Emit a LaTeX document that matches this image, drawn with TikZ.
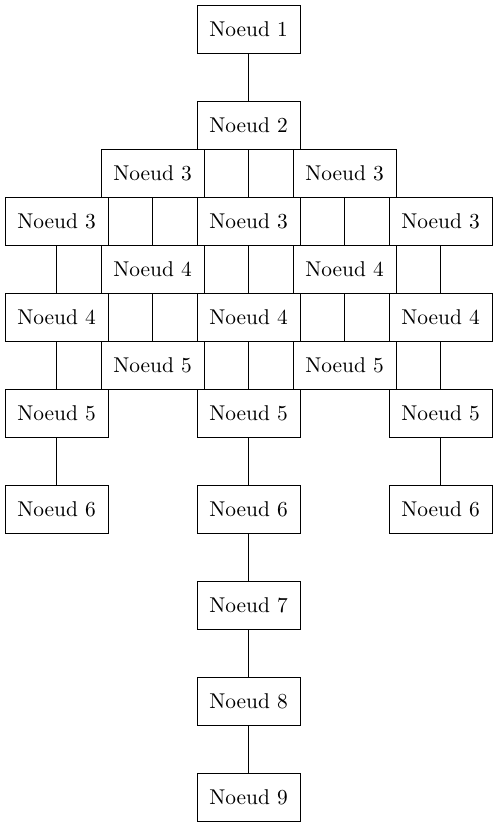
\documentclass[tikz,border=0pt]{standalone}
\usepackage{tikz}
\usetikzlibrary{calc}

\begin{document}
\begin{tikzpicture}[x=0.4673pt,y=-0.4673pt,
	noeud/.style={draw, minimum width=48.1pt, minimum height=22.4pt, inner sep=0pt}]
\useasboundingbox (0,0) rectangle (497,827);
% tronc du haut
\node[noeud] (n1) at (248.5,29) {Noeud 1};
\node[noeud] (n2) at (248.5,125) {Noeud 2};
% rangees intercalees
\foreach \c/\x in {g/152.5,d/344.5}{
	\node[noeud] (n3\c) at (\x,173) {Noeud 3};
	\node[noeud] (n4\c) at (\x,269) {Noeud 4};
	\node[noeud] (n5\c) at (\x,365) {Noeud 5};
	}
\foreach \c/\x in {a/56.5,b/248.5,c/440.5}{
	\node[noeud] (n3\c) at (\x,221) {Noeud 3};
	\node[noeud] (n4\c) at (\x,317) {Noeud 4};
	\node[noeud] (n5\c) at (\x,413) {Noeud 5};
	\node[noeud] (n6\c) at (\x,509) {Noeud 6};
	}
% tronc du bas
\node[noeud] (n7) at (248.5,605) {Noeud 7};
\node[noeud] (n8) at (248.5,701) {Noeud 8};
\node[noeud] (n9) at (248.5,797) {Noeud 9};

\foreach \a/\b in {n1/n2, n2/n3b, n3g/n4g, n3d/n4d, n3a/n4a, n3b/n4b, n3c/n4c,
	n4g/n5g, n4d/n5d, n4a/n5a, n4b/n5b, n4c/n5c, n5a/n6a, n5b/n6b, n5c/n6c,
	n6b/n7, n7/n8, n8/n9}{
	\draw (\a) -- (\b);
	}
%\draw[dashed] (n2) -- (n3g);
\end{tikzpicture}
\end{document}
